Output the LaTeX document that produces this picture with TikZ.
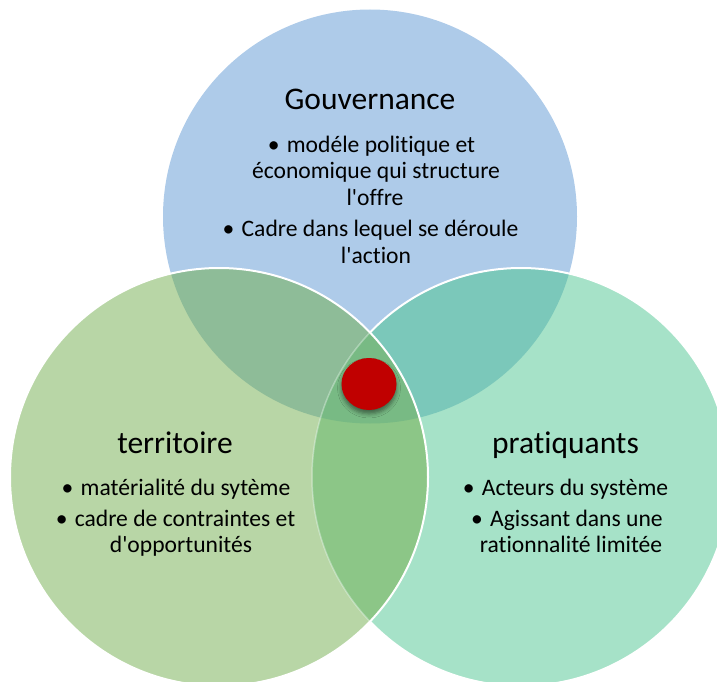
\documentclass[tikz,border=0pt]{standalone}
\usepackage{fontspec}
\newfontfamily\carlito{Carlito}[Ligatures=NoCommon]
\usetikzlibrary{shapes.geometric,shadows.blur}
\definecolor{cblue}{RGB}{174,203,233}
\definecolor{cgreen}{RGB}{184,214,166}
\definecolor{cteal}{RGB}{166,226,200}
\definecolor{cTL}{RGB}{142,188,152}
\definecolor{cTR}{RGB}{123,200,186}
\definecolor{cLR}{RGB}{140,198,135}
\definecolor{cTLR}{RGB}{120,186,132}
\definecolor{cred}{RGB}{192,0,0}
\newcommand{\bul}{\makebox[19pt][l]{•}}
\begin{document}
\begin{tikzpicture}[x=1pt,y=-1pt,
  titletext/.style={anchor=base, inner sep=0pt, font=\carlito\fontsize{31.5}{38}\selectfont, text=black},
  itemtext/.style={anchor=base, inner sep=0pt, font=\carlito\fontsize{23.6}{28}\selectfont, text=black},
  reddot/.style={ellipse, fill=cred, minimum width=55pt, minimum height=52pt, inner sep=0pt,
    blur shadow={shadow xshift=0pt, shadow yshift=-4pt, shadow blur radius=4pt, shadow opacity=45}},
  rim/.style={white, line width=2pt}
]
\useasboundingbox (0,0) rectangle (717,682);
\clip (0,0) rectangle (717,682);
\coordinate (T) at (370,216.5);
\coordinate (L) at (219,477);
\coordinate (R) at (521,477);
\def\rT{207pt}
\def\rC{209pt}
% base fills
\fill[cblue] (T) circle[radius=\rT];
\fill[cgreen] (L) circle[radius=\rC];
\fill[cteal] (R) circle[radius=\rC];
% overlaps
\begin{scope}
  \clip (T) circle[radius=\rT];
  \fill[cTL] (L) circle[radius=\rC];
  \fill[cTR] (R) circle[radius=\rC];
\end{scope}
\begin{scope}
  \clip (L) circle[radius=\rC];
  \fill[cLR] (R) circle[radius=\rC];
\end{scope}
\begin{scope}
  \clip (T) circle[radius=\rT];
  \clip (L) circle[radius=\rC];
  \fill[cTLR] (R) circle[radius=\rC];
\end{scope}
% outlines
\begin{scope}[even odd rule]
  \clip (0,0) rectangle (717,682) (L) circle[radius=\rC];
  \draw[rim] (R) circle[radius=\rC];
\end{scope}
\begin{scope}
  \clip (L) circle[radius=\rC];
  \draw[rim, opacity=0.35, line width=1.5pt] (R) circle[radius=\rC];
\end{scope}
\draw[rim] (L) circle[radius=\rC];
% centre dot
\node[reddot] (hub) at (369,384) {};
% top text
\node[titletext] (gtitle) at (370,110) {Gouvernance};
\node[itemtext] (g1) at (371.5,152) {\bul modéle politique et};
\node[itemtext] (g2) at (376,178) {économique qui structure};
\node[itemtext] (g3) at (375,205) {l'offre};
\node[itemtext] (g4) at (370.5,236) {\bul Cadre dans lequel se déroule};
\node[itemtext] (g5) at (376,263) {l'action};
% left text
\node[titletext] (ltitle) at (175,453) {territoire};
\node[itemtext] (l1) at (176,495) {\bul matérialité du sytème};
\node[itemtext] (l2) at (175.5,526) {\bul cadre de contraintes et};
\node[itemtext] (l3) at (181,552) {d'opportunités};
% right text
\node[titletext] (rtitle) at (565.5,453) {pratiquants};
\node[itemtext] (r1) at (565.5,495) {\bul Acteurs du système};
\node[itemtext] (r2) at (567,526) {\bul Agissant dans une};
\node[itemtext] (r3) at (571,552) {rationnalité limitée};
\end{tikzpicture}
\end{document}
